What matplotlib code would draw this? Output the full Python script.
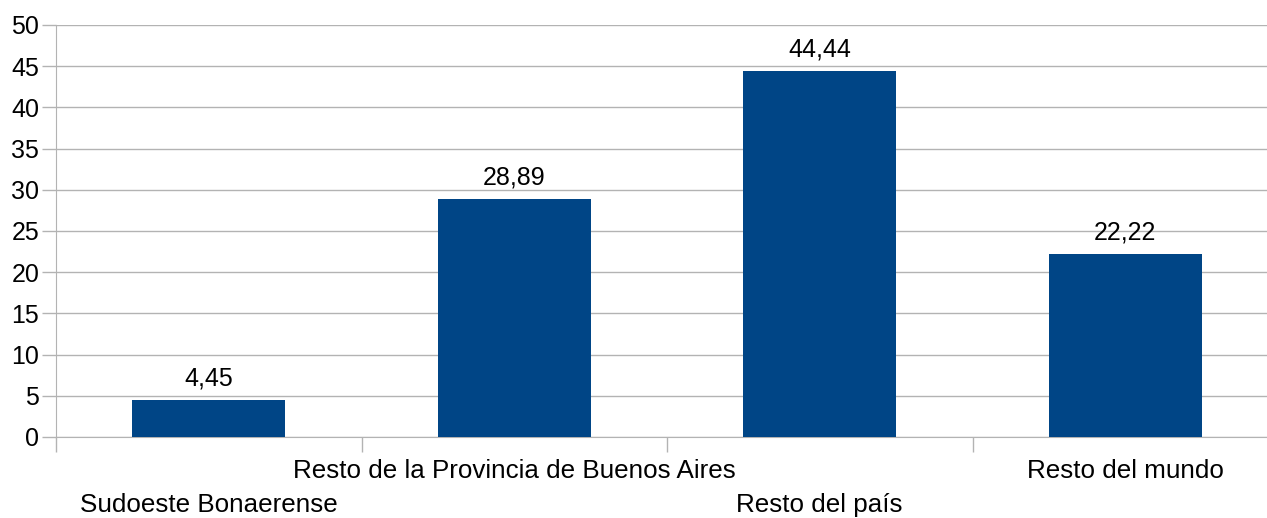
import matplotlib
matplotlib.use("Agg")
import matplotlib.pyplot as plt
from matplotlib.ticker import MultipleLocator

categories = ["Sudoeste Bonaerense", "Resto de la Provincia de Buenos Aires",
              "Resto del país", "Resto del mundo"]
values = [4.45, 28.89, 44.44, 22.22]
value_labels = ["4,45", "28,89", "44,44", "22,22"]

plt.rcParams['font.family'] = ['Liberation Sans', 'DejaVu Sans']
W, H = 1267, 518
fig = plt.figure(figsize=(W/100, H/100), dpi=100)
left, right = 56, 56 + 4*305.5
bottom, top = 437, 25
ax = fig.add_axes([left/W, (H-bottom)/H, (right-left)/W, (bottom-top)/H])

x = list(range(len(categories)))
ax.bar(x, values, width=0.5, color="#004586", zorder=3)
ax.set_xlim(-0.5, len(categories)-0.5)
ax.set_ylim(0, 50)
ax.yaxis.set_major_locator(MultipleLocator(5))
ax.grid(axis='y', color="#b3b3b3", linewidth=1, zorder=0)
for s in ['top', 'right']:
    ax.spines[s].set_visible(False)
for s in ['left', 'bottom']:
    ax.spines[s].set_color("#b3b3b3")
ax.tick_params(axis='y', colors="#b3b3b3", labelcolor='black', labelsize=18, length=10, width=1, pad=2)
ax.set_xticks([i - 0.5 for i in range(len(categories)+1)])
ax.set_xticklabels([])
ax.tick_params(axis='x', colors="#b3b3b3", length=11, width=1)

for i, (v, lab) in enumerate(zip(values, value_labels)):
    ax.annotate(lab, (i, v), xytext=(0, 7), textcoords='offset points',
                ha='center', va='bottom', fontsize=18)

for i, c in enumerate(categories):
    ypix = 505 if i % 2 == 0 else 471
    ax.annotate(c, (i, 0), xycoords=('data', 'axes fraction'),
                xytext=(0, -(ypix - bottom)), textcoords='offset pixels',
                ha='center', va='center', fontsize=18.7)

fig.savefig("out.png", dpi=100, facecolor='white')
